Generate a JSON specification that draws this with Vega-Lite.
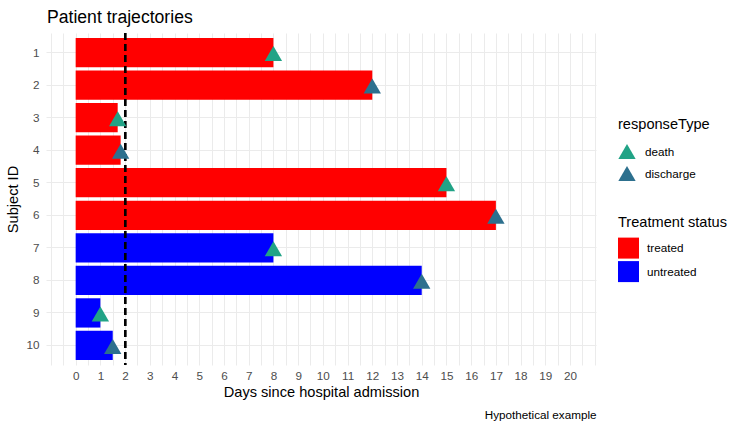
{
  "$schema": "https://vega.github.io/schema/vega-lite/v6.json",
  "width": 550,
  "height": 332,
  "autosize": {"type": "none"},
  "padding": {"left": 46, "top": 33, "right": 148, "bottom": 65},
  "background": "white",
  "config": {
    "font": "Liberation Sans",
    "view": {"stroke": null},
    "axis": {"labelFont": "Liberation Sans", "titleFont": "Liberation Sans"},
    "legend": {"labelFont": "Liberation Sans", "titleFont": "Liberation Sans"}
  },
  "title": {
    "text": "Patient trajectories",
    "anchor": "start",
    "frame": "group",
    "fontSize": 17.6,
    "fontWeight": "normal",
    "color": "black",
    "baseline": "alphabetic",
    "offset": -9,
    "dx": 1
  },
  "data": {
    "values": [
      {"id": 1, "days": 8, "status": "treated", "response": "death"},
      {"id": 2, "days": 12, "status": "treated", "response": "discharge"},
      {"id": 3, "days": 1.7, "status": "treated", "response": "death"},
      {"id": 4, "days": 1.82, "status": "treated", "response": "discharge"},
      {"id": 5, "days": 15, "status": "treated", "response": "death"},
      {"id": 6, "days": 17, "status": "treated", "response": "discharge"},
      {"id": 7, "days": 8, "status": "untreated", "response": "death"},
      {"id": 8, "days": 14, "status": "untreated", "response": "discharge"},
      {"id": 9, "days": 1, "status": "untreated", "response": "death"},
      {"id": 10, "days": 1.5, "status": "untreated", "response": "discharge"}
    ]
  },
  "resolve": {"axis": {"x": "independent"}},
  "layer": [
    {
      "mark": {"type": "bar", "orient": "horizontal"},
      "encoding": {
        "y": {
          "field": "id",
          "type": "ordinal",
          "sort": [1, 2, 3, 4, 5, 6, 7, 8, 9, 10],
          "scale": {"paddingInner": 0.1, "paddingOuter": 0.15},
          "axis": {
            "title": "Subject ID",
            "titleFontSize": 14.6,
            "titleFontWeight": "normal",
            "titleColor": "black",
            "titlePadding": 5,
            "labelFontSize": 11.7,
            "labelColor": "#4D4D4D",
            "labelPadding": 7,
            "ticks": false,
            "domain": false,
            "grid": true,
            "gridColor": "#EBEBEB",
            "gridWidth": 1
          }
        },
        "x": {
          "field": "days",
          "type": "quantitative",
          "scale": {"domain": [-1.2, 21.05], "nice": false, "zero": false},
          "axis": {
            "title": "Days since hospital admission",
            "titleFontSize": 14.6,
            "titleFontWeight": "normal",
            "titleColor": "black",
            "titlePadding": 3,
            "values": [-1, -0.5, 0, 0.5, 1, 1.5, 2, 2.5, 3, 3.5, 4, 4.5, 5, 5.5, 6, 6.5, 7, 7.5, 8, 8.5, 9, 9.5, 10, 10.5, 11, 11.5, 12, 12.5, 13, 13.5, 14, 14.5, 15, 15.5, 16, 16.5, 17, 17.5, 18, 18.5, 19, 19.5, 20, 20.5, 21],
            "labelExpr": "datum.value >= 0 && datum.value <= 20 && datum.value % 1 == 0 ? format(datum.value, 'd') : ''",
            "labelFontSize": 11.7,
            "labelColor": "#4D4D4D",
            "labelPadding": 5,
            "labelOverlap": false,
            "labelFlush": false,
            "ticks": false,
            "domain": false,
            "grid": true,
            "gridColor": "#EBEBEB",
            "gridWidth": 1
          }
        },
        "x2": {"datum": 0},
        "color": {
          "field": "status",
          "type": "nominal",
          "title": "Treatment status",
          "scale": {"domain": ["treated", "untreated"], "range": ["#FF0000", "#0000FF"]},
          "legend": {
            "orient": "none",
            "legendX": 572,
            "legendY": 182,
            "symbolType": "square",
            "symbolSize": 441,
            "symbolStrokeWidth": 0,
            "symbolOpacity": 1,
            "titleFontSize": 14.6,
            "titleFontWeight": "normal",
            "titleColor": "black",
            "titlePadding": 8,
            "labelFontSize": 11.7,
            "labelColor": "black",
            "labelOffset": 8,
            "rowPadding": 2.5,
            "padding": 0
          }
        }
      }
    },
    {
      "mark": {"type": "rule", "strokeDash": [7, 4], "strokeWidth": 2, "color": "black"},
      "encoding": {
        "x": {
          "datum": 2,
          "type": "quantitative",
          "axis": {
            "title": "Hypothetical example",
            "titleAnchor": "end",
            "titleFontSize": 11.7,
            "titleFontWeight": "normal",
            "titleColor": "black",
            "titlePadding": 44,
            "labels": false,
            "ticks": false,
            "domain": false,
            "grid": false,
            "orient": "bottom"
          }
        }
      }
    },
    {
      "mark": {"type": "point", "shape": "triangle-up", "filled": true, "size": 300, "opacity": 1, "yOffset": 1},
      "encoding": {
        "y": {"field": "id", "type": "ordinal", "sort": [1, 2, 3, 4, 5, 6, 7, 8, 9, 10]},
        "x": {"field": "days", "type": "quantitative", "axis": null},
        "fill": {
          "field": "response",
          "type": "nominal",
          "title": "responseType",
          "scale": {"domain": ["death", "discharge"], "range": ["#21A386", "#2D708E"]},
          "legend": {
            "orient": "none",
            "legendX": 572,
            "legendY": 84,
            "symbolType": "triangle-up",
            "symbolSize": 300,
            "symbolStrokeWidth": 0,
            "symbolOpacity": 1,
            "titleFontSize": 14.6,
            "titleFontWeight": "normal",
            "titleColor": "black",
            "titlePadding": 11,
            "labelFontSize": 11.7,
            "labelColor": "black",
            "labelOffset": 9,
            "rowPadding": 5,
            "padding": 0
          }
        }
      }
    }
  ]
}
